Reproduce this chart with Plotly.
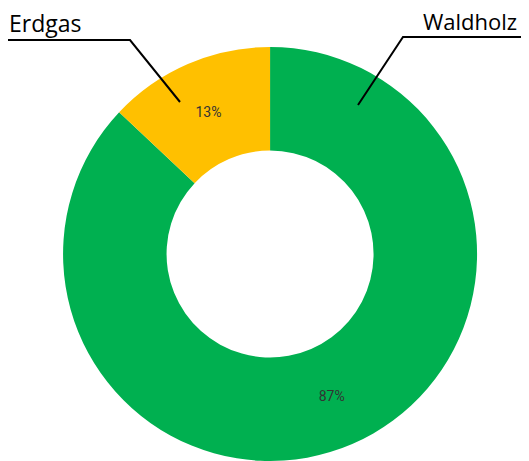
import plotly.graph_objects as go

# The page body adds an 8px margin; the figure is sized to fit the window.
OFF = 8
W, H = 529 - OFF, 461 - OFF

labels = ["Waldholz", "Erdgas"]
values = [87, 13]
colors = ["#00B050", "#FFC000"]


def px(x):
    return (x - OFF) / W


def py(y):
    return 1 - (y - OFF) / H


fig = go.Figure(go.Pie(
    labels=labels,
    values=values,
    hole=0.5,
    sort=False,
    direction="clockwise",
    rotation=0,
    marker=dict(colors=colors, line=dict(width=0)),
    texttemplate="%{percent:.0%}",
    textposition="inside",
    insidetextorientation="horizontal",
    textfont=dict(family="Roboto", size=14, color="#333333"),
    domain=dict(x=[0.006, 1.0], y=[0.0, py(47)]),
    showlegend=False,
    hoverinfo="label+percent",
))

line_style = dict(color="black", width=2)
fig.add_shape(type="path", xref="paper", yref="paper",
              path=f"M {px(8)},{py(40)} L {px(130)},{py(40)} L {px(180)},{py(102)}",
              line=line_style)
fig.add_shape(type="path", xref="paper", yref="paper",
              path=f"M {px(529)},{py(37)} L {px(403)},{py(37)} L {px(358)},{py(105)}",
              line=line_style)

fig.add_annotation(text=labels[1], xref="paper", yref="paper",
                   x=px(8), y=py(40), xanchor="left", yanchor="bottom",
                   showarrow=False, borderpad=0,
                   font=dict(family="Open Sans", size=23, color="black"))
fig.add_annotation(text=labels[0], xref="paper", yref="paper",
                   x=px(518), y=py(37), xanchor="right", yanchor="bottom",
                   showarrow=False, borderpad=0,
                   font=dict(family="Open Sans", size=22, color="black"))

fig.update_layout(width=W, height=H, margin=dict(l=0, r=0, t=0, b=0),
                  paper_bgcolor="white", plot_bgcolor="white")

fig.write_html("out.html")
